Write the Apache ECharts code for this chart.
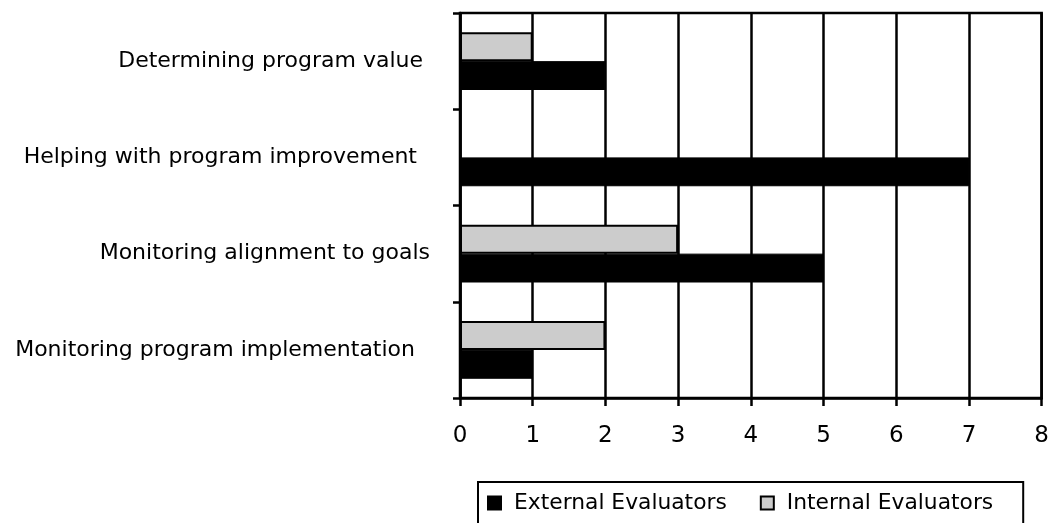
<!DOCTYPE html>
<html>
<head>
<meta charset="utf-8">
<script src="https://cdn.jsdelivr.net/npm/echarts@6/dist/echarts.min.js"></script>
<style>
  html, body { margin: 0; padding: 0; background: #fff; }
  #main { width: 1052px; height: 523px; }
</style>
</head>
<body>
<div id="main"></div>
<script>
var categories = [
    'Monitoring program implementation',
    'Monitoring alignment to goals',
    'Helping with program improvement',
    'Determining program value'
];
var externalValues = [1, 5, 7, 2];
var internalValues = [2, 3, 0, 1];
var xTicks = [0, 1, 2, 3, 4, 5, 6, 7, 8];

var chartDom = document.getElementById('main');
var myChart = echarts.init(chartDom);
var option;

var font = 'DejaVu Sans';
// the source labels are not all flush right; nudge each a little
var labelPad = [15, 0, 13, 7];

var richLabels = {};
labelPad.forEach(function (p, i) {
    richLabels['l' + i] = { fontSize: 22, fontFamily: font, color: '#000', padding: [0, p, 0, 0] };
});

option = {
    animation: false,
    textStyle: { fontFamily: font },
    grid: {
        left: 460,
        right: 7,
        top: 13,
        bottom: 125,
        show: true,
        borderColor: '#000',
        borderWidth: 2.5
    },
    legend: {
        left: 478,
        top: 482,
        itemGap: 33,
        itemWidth: 13,
        itemHeight: 13,
        padding: [10, 30, 30, 9],
        borderColor: '#000',
        borderWidth: 2,
        textStyle: { fontFamily: font, fontSize: 21.8, color: '#000', padding: [0, 0, 0, 8] },
        data: [
            { name: 'External Evaluators', icon: 'rect' },
            { name: 'Internal Evaluators', icon: 'rect' }
        ]
    },
    xAxis: {
        type: 'value',
        min: xTicks[0],
        max: xTicks[xTicks.length - 1],
        interval: 1,
        axisLine: { show: true, lineStyle: { color: '#000', width: 2.5 } },
        axisTick: { show: true, length: 8, lineStyle: { color: '#000', width: 2.5 } },
        axisLabel: { color: '#000', fontSize: 23, margin: 27, fontFamily: font },
        splitLine: { show: true, lineStyle: { color: '#000', width: 2.5 } }
    },
    yAxis: {
        type: 'category',
        data: categories,
        axisLine: { show: true, lineStyle: { color: '#000', width: 2.5 } },
        axisTick: { show: true, length: 7, lineStyle: { color: '#000', width: 2.5 } },
        axisLabel: {
            margin: 30,
            formatter: function (value, index) {
                return '{l' + index + '|' + value + '}';
            },
            rich: richLabels
        },
        splitLine: { show: false }
    },
    series: [
        {
            name: 'Internal Evaluators',
            type: 'bar',
            data: internalValues,
            barGap: '0%',
            barCategoryGap: '40%',
            itemStyle: { color: '#cccccc', borderColor: '#000', borderWidth: 2 }
        },
        {
            name: 'External Evaluators',
            type: 'bar',
            data: externalValues,
            barGap: '0%',
            barCategoryGap: '40%',
            itemStyle: { color: '#000', borderColor: '#000', borderWidth: 1 }
        }
    ]
};

option && myChart.setOption(option);
</script>
</body>
</html>
